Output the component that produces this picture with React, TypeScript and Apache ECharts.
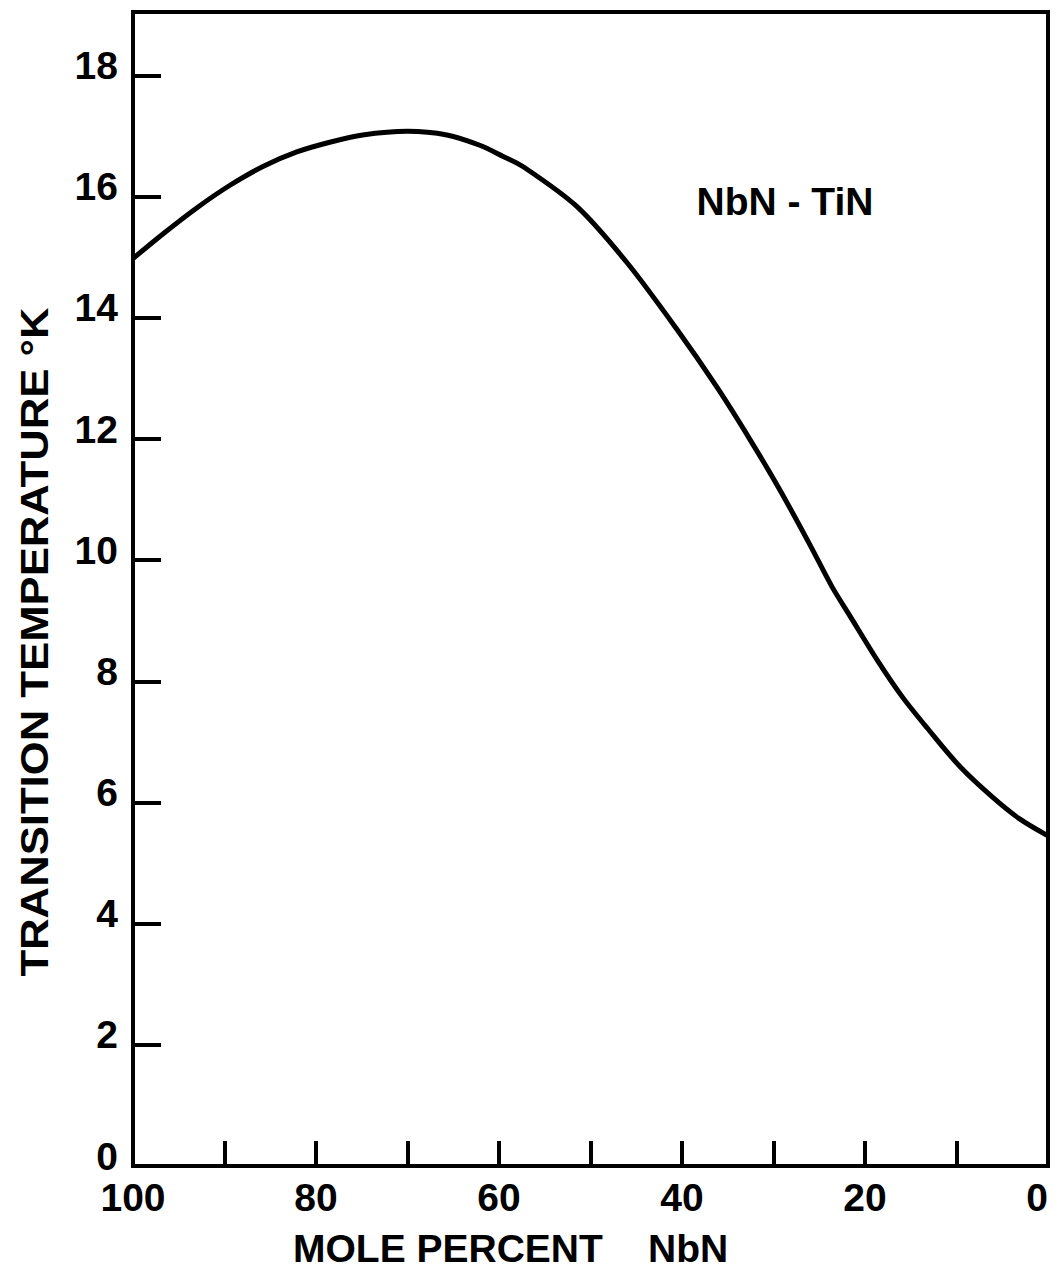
import React, { useEffect, useRef } from "react";
import * as echarts from "echarts";

// Composition (mole percent NbN) and transition temperature (K) along the curve
const moleNbN = [100, 96.7, 93.0, 89.4, 85.8, 82.1, 78.5, 74.9, 70.0, 65.7, 62.1, 59.6, 57.4, 51.5, 46.0, 40.6, 36.2, 32.6, 29.3, 26.0, 23.6, 21.6, 18.7, 15.9, 13.2, 9.6, 6.0, 3.1, 0];
const tcKelvin = [14.98, 15.39, 15.82, 16.19, 16.5, 16.74, 16.9, 17.02, 17.08, 17.02, 16.85, 16.67, 16.5, 15.84, 14.91, 13.82, 12.86, 12.0, 11.16, 10.25, 9.56, 9.07, 8.36, 7.74, 7.23, 6.59, 6.08, 5.73, 5.45];

const xTickLabels = ["0", "20", "40", "60", "80", "100"];
const yTickLabels = ["0", "2", "4", "6", "8", "10", "12", "14", "16", "18"];

const FONT = "'Liberation Sans', Arial, sans-serif";

export default function App() {
  const ref = useRef<HTMLDivElement>(null);

  useEffect(() => {
    if (!ref.current) return;
    const chart = echarts.init(ref.current, null, { renderer: "svg" });
    const textBase = { fontFamily: FONT, fontWeight: "bold", fontSize: 39, fill: "#000" };

    chart.setOption({
      animation: false,
      backgroundColor: "#fff",
      grid: {
        left: 133,
        right: 12,
        top: 12,
        bottom: 116,
        show: true,
        borderColor: "#000",
        borderWidth: 4,
      },
      xAxis: {
        type: "value",
        min: 0,
        max: 100,
        interval: 10,
        inverse: true,
        splitLine: { show: false },
        axisLine: { show: true, onZero: false, lineStyle: { color: "#000", width: 4 } },
        axisTick: { show: true, inside: true, length: 25, lineStyle: { color: "#000", width: 4 } },
        axisLabel: {
          margin: 16,
          lineHeight: 30,
          alignMinLabel: "right",
          color: "#000",
          fontFamily: FONT,
          fontWeight: "bold",
          fontSize: 39,
          formatter: (v: number) => (xTickLabels.includes(String(v)) ? String(v) : ""),
        },
      },
      yAxis: {
        type: "value",
        min: 0,
        max: 19.05,
        interval: 2,
        splitLine: { show: false },
        axisLine: { show: true, onZero: false, lineStyle: { color: "#000", width: 4 } },
        axisTick: { show: true, inside: true, length: 28, lineStyle: { color: "#000", width: 4 } },
        axisLabel: {
          margin: 15,
          lineHeight: 20,
          verticalAlign: "bottom",
          showMaxLabel: false,
          color: "#000",
          fontFamily: FONT,
          fontWeight: "bold",
          fontSize: 39,
          formatter: (v: number) => (yTickLabels.includes(String(v)) ? String(v) : ""),
        },
      },
      series: [
        {
          type: "line",
          data: moleNbN.map((x, i) => [x, tcKelvin[i]]),
          smooth: 0.3,
          showSymbol: false,
          lineStyle: { color: "#000", width: 5 },
        },
      ],
      graphic: [
        {
          type: "text",
          x: 35,
          y: 642,
          rotation: Math.PI / 2,
          scaleX: 1.12,
          style: { ...textBase, text: "TRANSITION TEMPERATURE °K", align: "center", verticalAlign: "middle" },
        },
        {
          type: "text",
          x: 293,
          y: 1248,
          style: { ...textBase, text: "MOLE PERCENT", align: "left", verticalAlign: "middle" },
        },
        {
          type: "text",
          x: 648,
          y: 1248,
          style: { ...textBase, text: "NbN", align: "left", verticalAlign: "middle" },
        },
        {
          type: "text",
          x: 785,
          y: 201,
          style: { ...textBase, text: "NbN - TiN", align: "center", verticalAlign: "middle" },
        },
      ],
    });

    return () => chart.dispose();
  }, []);

  return (
    <div
      ref={ref}
      style={{ position: "fixed", left: 0, top: 0, width: 1060, height: 1282, background: "#fff" }}
    />
  );
}
